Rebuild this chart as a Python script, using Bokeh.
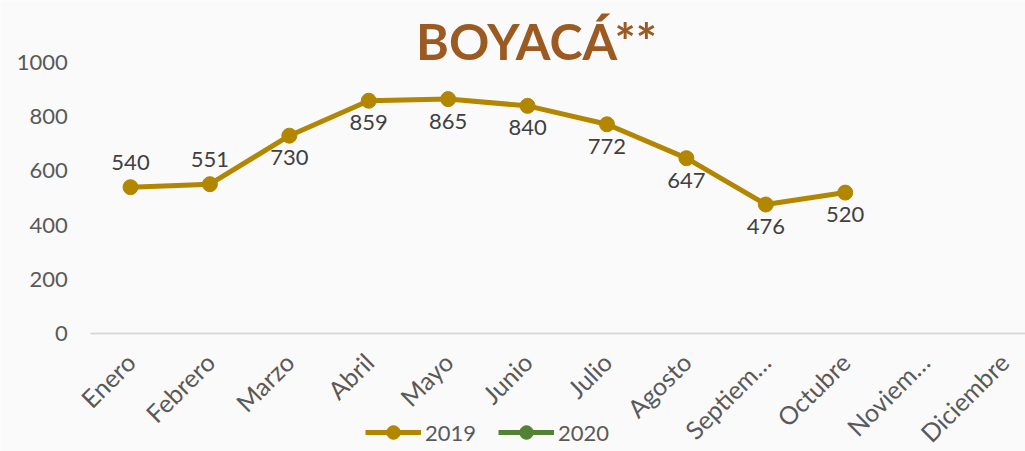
import math
from bokeh.plotting import figure
from bokeh.models import Range1d, FixedTicker, Label, Legend, LegendItem, ColumnDataSource
from bokeh.core.properties import value
from bokeh.embed import file_html
from bokeh.resources import INLINE

months = ["Enero", "Febrero", "Marzo", "Abril", "Mayo", "Junio", "Julio",
          "Agosto", "Septiem…", "Octubre", "Noviem…", "Diciembre"]
values_2019 = [540, 551, 730, 859, 865, 840, 772, 647, 476, 520]
values_2020 = [None, None, None, None, None, None, None, None, None, None, None, None]
y_ticks = [0, 200, 400, 600, 800, 1000]
title_text = "BOYACÁ**"
label_side = ["above", "above", "below", "below", "below", "below", "below", "below", "below", "below"]

FONT = "Lato"
GOLD = "#b38600"
GREEN = "#548235"
BG = "#fafafa"

W, H = 1025, 451
X0 = -1.637
p = figure(width=W, height=H, output_backend="svg", toolbar_location=None,
           x_range=Range1d(X0, 11.27), y_range=Range1d(-435.4, 1228.8),
           min_border_left=0, min_border_right=0, min_border_top=0, min_border_bottom=0,
           background_fill_color=BG, border_fill_color=BG, outline_line_color=None)
p.grid.visible = False

idx = list(range(len(months)))
x19 = idx[:len(values_2019)]
y20 = [float("nan") if v is None else v for v in values_2020]
r_line19 = p.line(x19, values_2019, line_color=GOLD, line_width=5)
r_pt19 = p.scatter(x19, values_2019, size=15, fill_color=GOLD, line_color=GOLD)
r_line20 = p.line(idx, y20, line_color=GREEN, line_width=5)
r_pt20 = p.scatter(idx, y20, size=15, fill_color=GREEN, line_color=GREEN)

# data labels
above = [i for i, s in enumerate(label_side) if s == "above"]
below = [i for i, s in enumerate(label_side) if s == "below"]
for ids, off in ((above, -25), (below, 22)):
    src = ColumnDataSource(dict(x=[x19[i] for i in ids], y=[values_2019[i] for i in ids],
                                t=[str(values_2019[i]) for i in ids]))
    p.text("x", "y", "t", source=src, text_align="center", text_baseline="middle",
           y_offset=off, text_font=value(FONT), text_font_size="22px", text_color="#404040")

# axes
xa = p.xaxis[0]
xa.fixed_location = 0
xa.bounds = (-0.5, 11.27)
xa.ticker = FixedTicker(ticks=idx)
xa.major_label_overrides = {i: m for i, m in enumerate(months)}
xa.major_label_orientation = math.pi / 4
xa.major_label_text_font = FONT
xa.major_label_text_font_size = "25px"
xa.major_label_text_color = "#595959"
xa.axis_line_color = "#d9d9d9"
xa.axis_line_width = 2
xa.major_tick_line_color = None
xa.minor_tick_line_color = None
xa.major_label_standoff = 18

ya = p.yaxis[0]
ya.fixed_location = -0.5
ya.ticker = FixedTicker(ticks=y_ticks)
ya.major_label_text_font = FONT
ya.major_label_text_font_size = "22px"
ya.major_label_text_color = "#595959"
ya.axis_line_color = None
ya.major_tick_line_color = None
ya.minor_tick_line_color = None
ya.major_label_standoff = 17

# title
p.add_layout(Label(x=536, y=411, x_units="screen", y_units="screen", text=title_text,
                   text_align="center", text_baseline="middle", text_font=FONT,
                   text_font_style="bold", text_font_size="50px", text_color="#9c5a23"))

legend = Legend(items=[LegendItem(label="2019", renderers=[r_line19, r_pt19]),
                       LegendItem(label="2020", renderers=[r_line20, r_pt20])],
                location=(365, 2), orientation="horizontal",
                background_fill_alpha=0, border_line_color=None,
                label_text_font=FONT, label_text_font_size="22px", label_text_color="#595959",
                glyph_width=56, glyph_height=34, label_height=26, spacing=22,
                padding=0, margin=0, label_standoff=4)
p.add_layout(legend, "center")

open("out.html", "w").write(file_html(p, INLINE))
